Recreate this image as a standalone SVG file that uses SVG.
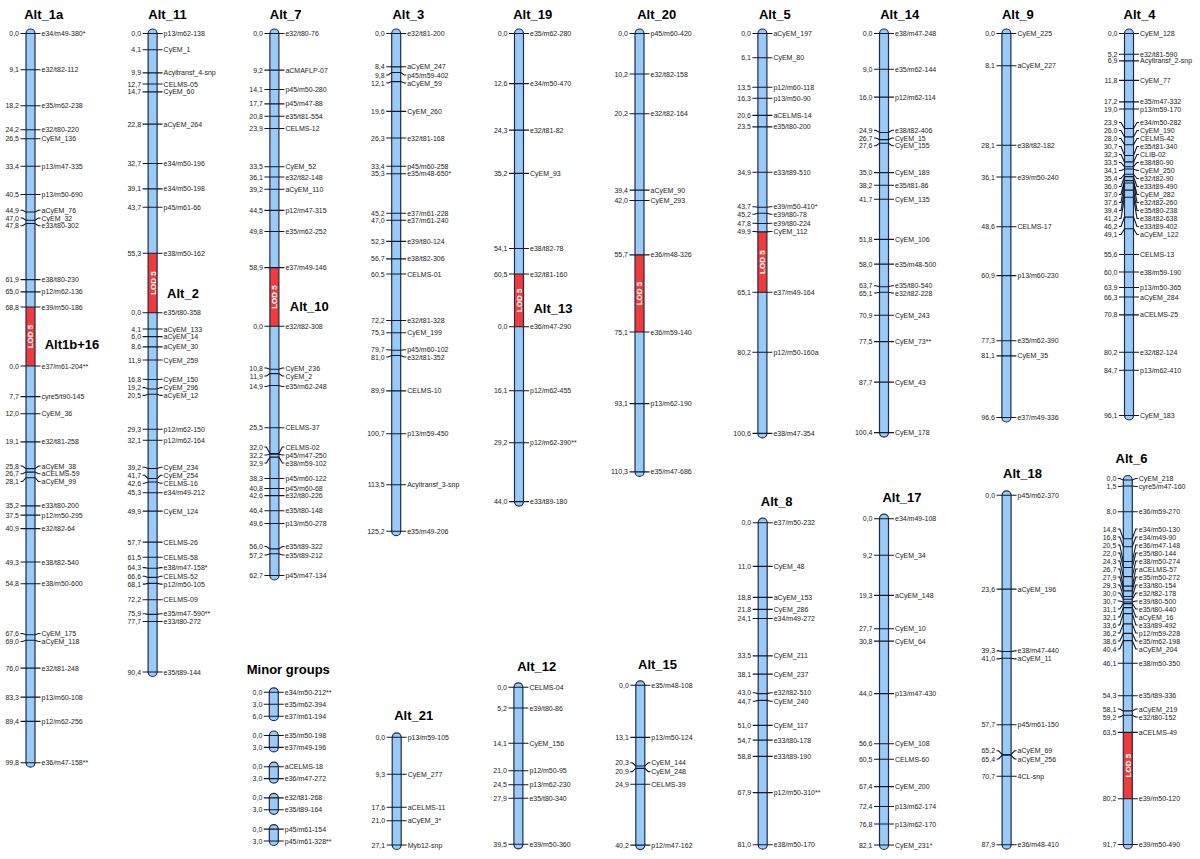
<svg xmlns="http://www.w3.org/2000/svg" width="1200" height="859" viewBox="0 0 1200 859">
<style>
.bar{fill:#9acbf8}
.ol{fill:none;stroke:#1e2c48;stroke-width:1.2}
.lod{fill:#f23a3a}
.tk{fill:none;stroke:#111a2a;stroke-width:1.1}
.n,.m{font-family:"Liberation Sans",Arial,sans-serif;font-size:7px;fill:#222}
.n{text-anchor:end}
.t{font-family:"Liberation Sans",Arial,sans-serif;font-size:13px;font-weight:bold;text-anchor:middle;fill:#000}
.ld{font-family:"Liberation Sans",Arial,sans-serif;font-size:8px;font-weight:bold;fill:#fff;text-anchor:middle}
</style>
<rect width="1200" height="859" fill="#fff"/>

<g id="Alt_1a" transform="translate(30.5 0)">
<rect class="bar" x="-4.5" y="29" width="9" height="738.2" rx="4.5"/>
<rect class="lod" x="-4.5" y="307" width="9" height="59"/>
<text class="ld" transform="translate(0 336.5) rotate(-90)" y="2.9">LOD 5</text>
<rect class="ol" x="-4.5" y="29" width="9" height="738.2" rx="4.5"/>
<path class="tk" d="M-10 33.5H10M-10 69.7H10M-10 105.8H10M-10 129.7H10M-10 138.8H10M-10 166.3H10M-10 194.5H10M-10 210.3H-8L-4.5 212H4.5L8 210.3H10M-10 218H-8L-4.5 220.3H4.5L8 218H10M-10 225.7H-8L-4.5 223.5H4.5L8 225.7H10M-10 279.6H10M-10 291.9H10M-10 307H10M-10 366H10M-10 396.6H10M-10 413.7H10M-10 441.9H10M-10 466H-8L-4.5 468.6H4.5L8 466H10M-10 473.7H-8L-4.5 472.1H4.5L8 473.7H10M-10 481.5H-8L-4.5 477.7H4.5L8 481.5H10M-10 505.9H10M-10 515.1H10M-10 528.6H10M-10 562H10M-10 583.8H10M-10 633.5H-8L-4.5 634.7H4.5L8 633.5H10M-10 641.5H-8L-4.5 640.3H4.5L8 641.5H10M-10 668.1H10M-10 697.1H10M-10 721.4H10M-10 762.7H10"/>
<g class="n" transform="translate(-11.5 2.5)"><text y="33.5">0,0</text><text y="69.7">9,1</text><text y="105.8">18,2</text><text y="129.7">24,2</text><text y="138.8">26,5</text><text y="166.3">33,4</text><text y="194.5">40,5</text><text y="210.3">44,9</text><text y="218">47,0</text><text y="225.7">47,8</text><text y="279.6">61,9</text><text y="291.9">65,0</text><text y="307">68,8</text><text y="366">0,0</text><text y="396.6">7,7</text><text y="413.7">12,0</text><text y="441.9">19,1</text><text y="466">25,8</text><text y="473.7">26,7</text><text y="481.5">28,1</text><text y="505.9">35,2</text><text y="515.1">37,5</text><text y="528.6">40,9</text><text y="562">49,3</text><text y="583.8">54,8</text><text y="633.5">67,6</text><text y="641.5">69,0</text><text y="668.1">76,0</text><text y="697.1">83,3</text><text y="721.4">89,4</text><text y="762.7">99,8</text></g>
<g class="m" transform="translate(11 2.5)"><text y="33.5">e34/m49-380*</text><text y="69.7">e32/t82-112</text><text y="105.8">e35/m62-238</text><text y="129.7">e32/t80-220</text><text y="138.8">CyEM_136</text><text y="166.3">p13/m47-335</text><text y="194.5">p13/m50-690</text><text y="210.3">aCyEM_76</text><text y="218">CyEM_32</text><text y="225.7">e33/t80-302</text><text y="279.6">e38/t80-230</text><text y="291.9">p12/m62-136</text><text y="307">e39/m50-186</text><text y="366">e37/m61-204**</text><text y="396.6">cyre5/t90-145</text><text y="413.7">CyEM_36</text><text y="441.9">e32/t81-258</text><text y="466">aCyEM_38</text><text y="473.7">aCELMS-59</text><text y="481.5">aCyEM_99</text><text y="505.9">e33/t80-200</text><text y="515.1">p12/m50-295</text><text y="528.6">e32/t82-64</text><text y="562">e38/t82-540</text><text y="583.8">e38/m50-600</text><text y="633.5">CyEM_175</text><text y="641.5">aCyEM_118</text><text y="668.1">e32/t81-248</text><text y="697.1">p13/m60-108</text><text y="721.4">p12/m62-256</text><text y="762.7">e36/m47-158**</text></g>
<text class="t" x="13.2" y="18.5">Alt_1a</text>
<text class="t" x="41.5" y="348.5">Alt1b+16</text>
</g>

<g id="Alt_11" transform="translate(152.6 0)">
<rect class="bar" x="-4.5" y="29" width="9" height="647.5" rx="4.5"/>
<rect class="lod" x="-4.5" y="253.3" width="9" height="59.4"/>
<text class="ld" transform="translate(0 283) rotate(-90)" y="2.9">LOD 5</text>
<rect class="ol" x="-4.5" y="29" width="9" height="647.5" rx="4.5"/>
<path class="tk" d="M-10 33.5H10M-10 49.8H10M-10 72.9H10M-10 84H10M-10 91.9H10M-10 124.1H10M-10 163.5H10M-10 188.9H10M-10 207.2H10M-10 253.3H10M-10 312.7H10M-10 329H10M-10 336.6H10M-10 346.9H10M-10 360H10M-10 379.3H-8L-4.5 379.5H4.5L8 379.3H10M-10 387.6H-8L-4.5 389H4.5L8 387.6H10M-10 395.4H-8L-4.5 394.2H4.5L8 395.4H10M-10 429.2H10M-10 440.3H10M-10 467.3H-8L-4.5 468.5H4.5L8 467.3H10M-10 475.3H-8L-4.5 478.5H4.5L8 475.3H10M-10 483.2H-8L-4.5 482H4.5L8 483.2H10M-10 492.8H10M-10 511.1H10M-10 542.1H10M-10 557.2H10M-10 567.6H-8L-4.5 568.3H4.5L8 567.6H10M-10 576.3H-8L-4.5 577.4H4.5L8 576.3H10M-10 584.1H-8L-4.5 583.4H4.5L8 584.1H10M-10 599.7H10M-10 613.7H-8L-4.5 614.4H4.5L8 613.7H10M-10 621.5H10M-10 672H10"/>
<g class="n" transform="translate(-11.5 2.5)"><text y="33.5">0,0</text><text y="49.8">4,1</text><text y="72.9">9,9</text><text y="84">12,7</text><text y="91.9">14,7</text><text y="124.1">22,8</text><text y="163.5">32,7</text><text y="188.9">39,1</text><text y="207.2">43,7</text><text y="253.3">55,3</text><text y="312.7">0,0</text><text y="329">4,1</text><text y="336.6">6,0</text><text y="346.9">8,6</text><text y="360">11,9</text><text y="379.3">16,8</text><text y="387.6">19,2</text><text y="395.4">20,5</text><text y="429.2">29,3</text><text y="440.3">32,1</text><text y="467.3">39,2</text><text y="475.3">41,7</text><text y="483.2">42,6</text><text y="492.8">45,3</text><text y="511.1">49,9</text><text y="542.1">57,7</text><text y="557.2">61,5</text><text y="567.6">64,3</text><text y="576.3">66,6</text><text y="584.1">68,1</text><text y="599.7">72,2</text><text y="613.7">75,9</text><text y="621.5">77,7</text><text y="672">90,4</text></g>
<g class="m" transform="translate(11 2.5)"><text y="33.5">p13/m62-138</text><text y="49.8">CyEM_1</text><text y="72.9">Acyltransf_4-snp</text><text y="84">CELMS-05</text><text y="91.9">CyEM_60</text><text y="124.1">aCyEM_264</text><text y="163.5">e34/m50-196</text><text y="188.9">e34/m50-198</text><text y="207.2">p45/m61-66</text><text y="253.3">e38/m50-162</text><text y="312.7">e35/t80-358</text><text y="329">aCyEM_133</text><text y="336.6">aCyEM_14</text><text y="346.9">aCyEM_30</text><text y="360">CyEM_259</text><text y="379.3">CyEM_150</text><text y="387.6">CyEM_296</text><text y="395.4">aCyEM_12</text><text y="429.2">p12/m62-150</text><text y="440.3">p12/m62-164</text><text y="467.3">CyEM_234</text><text y="475.3">CyEM_254</text><text y="483.2">CELMS-16</text><text y="492.8">e34/m49-212</text><text y="511.1">CyEM_124</text><text y="542.1">CELMS-26</text><text y="557.2">CELMS-58</text><text y="567.6">e38/m47-158*</text><text y="576.3">CELMS-52</text><text y="584.1">p12/m50-105</text><text y="599.7">CELMS-09</text><text y="613.7">e35/m47-590**</text><text y="621.5">e33/t80-272</text><text y="672">e35/t89-144</text></g>
<text class="t" x="14.9" y="18.5">Alt_11</text>
<text class="t" x="30.4" y="298">Alt_2</text>
</g>

<g id="Alt_7" transform="translate(274.4 0)">
<rect class="bar" x="-4.5" y="29" width="9" height="551" rx="4.5"/>
<rect class="lod" x="-4.5" y="267.6" width="9" height="58.7"/>
<text class="ld" transform="translate(0 297) rotate(-90)" y="2.9">LOD 5</text>
<rect class="ol" x="-4.5" y="29" width="9" height="551" rx="4.5"/>
<path class="tk" d="M-10 33.5H10M-10 70.1H10M-10 89.5H10M-10 103.9H10M-10 116.2H10M-10 128.5H10M-10 166.7H10M-10 177H10M-10 189.3H10M-10 210.4H10M-10 231.5H10M-10 267.6H10M-10 326.3H10M-10 368H-8L-4.5 369.2H4.5L8 368H10M-10 376H-8L-4.5 373.6H4.5L8 376H10M-10 386.5H-8L-4.5 385.5H4.5L8 386.5H10M-10 427.7H10M-10 447H-8L-4.5 453.5H4.5L8 447H10M-10 455H-8L-4.5 454.3H4.5L8 455H10M-10 463H-8L-4.5 457.1H4.5L8 463H10M-10 478.5H10M-10 488.5H10M-10 495.6H10M-10 510.7H10M-10 523.5H10M-10 546.5H-8L-4.5 548.9H4.5L8 546.5H10M-10 555H-8L-4.5 553.7H4.5L8 555H10M-10 575.5H10"/>
<g class="n" transform="translate(-11.5 2.5)"><text y="33.5">0,0</text><text y="70.1">9,2</text><text y="89.5">14,1</text><text y="103.9">17,7</text><text y="116.2">20,8</text><text y="128.5">23,9</text><text y="166.7">33,5</text><text y="177">36,1</text><text y="189.3">39,2</text><text y="210.4">44,5</text><text y="231.5">49,8</text><text y="267.6">58,9</text><text y="326.3">0,0</text><text y="368">10,8</text><text y="376">11,9</text><text y="386.5">14,9</text><text y="427.7">25,5</text><text y="447">32,0</text><text y="455">32,2</text><text y="463">32,9</text><text y="478.5">38,3</text><text y="488.5">40,8</text><text y="495.6">42,6</text><text y="510.7">46,4</text><text y="523.5">49,6</text><text y="546.5">56,0</text><text y="555">57,2</text><text y="575.5">62,7</text></g>
<g class="m" transform="translate(11 2.5)"><text y="33.5">e32/t80-76</text><text y="70.1">aCMAFLP-07</text><text y="89.5">p45/m50-280</text><text y="103.9">p45/m47-88</text><text y="116.2">e35/t81-554</text><text y="128.5">CELMS-12</text><text y="166.7">CyEM_52</text><text y="177">e32/t82-148</text><text y="189.3">aCyEM_110</text><text y="210.4">p12/m47-315</text><text y="231.5">e35/m62-252</text><text y="267.6">e37/m49-146</text><text y="326.3">e32/t82-308</text><text y="368">CyEM_236</text><text y="376">CyEM_2</text><text y="386.5">e35/m62-248</text><text y="427.7">CELMS-37</text><text y="447">CELMS-02</text><text y="455">p45/m47-250</text><text y="463">e38/m59-102</text><text y="478.5">p45/m60-122</text><text y="488.5">p45/m60-68</text><text y="495.6">e32/t80-226</text><text y="510.7">e35/t80-148</text><text y="523.5">p13/m50-278</text><text y="546.5">e35/t89-322</text><text y="555">e35/t89-212</text><text y="575.5">p45/m47-134</text></g>
<text class="t" x="11.3" y="18.5">Alt_7</text>
<text class="t" x="34.9" y="310.5">Alt_10</text>
</g>

<g id="Alt_3" transform="translate(396.2 0)">
<rect class="bar" x="-4.5" y="29" width="9" height="506.7" rx="4.5"/>
<rect class="ol" x="-4.5" y="29" width="9" height="506.7" rx="4.5"/>
<path class="tk" d="M-10 33.5H10M-10 66.7H-8L-4.5 66.9H4.5L8 66.7H10M-10 75H-8L-4.5 72.5H4.5L8 75H10M-10 83H-8L-4.5 81.6H4.5L8 83H10M-10 111.4H10M-10 138H10M-10 166.3H10M-10 173.8H10M-10 213.2H10M-10 220.3H10M-10 241.4H10M-10 258.9H10M-10 274H10M-10 320.5H10M-10 332.8H10M-10 349.8H-8L-4.5 350.3H4.5L8 349.8H10M-10 357H-8L-4.5 355.5H4.5L8 357H10M-10 390.9H10M-10 433.8H10M-10 484.7H10M-10 531.2H10"/>
<g class="n" transform="translate(-11.5 2.5)"><text y="33.5">0,0</text><text y="66.7">8,4</text><text y="75">9,8</text><text y="83">12,1</text><text y="111.4">19,6</text><text y="138">26,3</text><text y="166.3">33,4</text><text y="173.8">35,3</text><text y="213.2">45,2</text><text y="220.3">47,0</text><text y="241.4">52,3</text><text y="258.9">56,7</text><text y="274">60,5</text><text y="320.5">72,2</text><text y="332.8">75,3</text><text y="349.8">79,7</text><text y="357">81,0</text><text y="390.9">89,9</text><text y="433.8">100,7</text><text y="484.7">113,5</text><text y="531.2">125,2</text></g>
<g class="m" transform="translate(11 2.5)"><text y="33.5">e32/t81-200</text><text y="66.7">aCyEM_247</text><text y="75">p45/m59-402</text><text y="83">aCyEM_59</text><text y="111.4">CyEM_260</text><text y="138">e32/t81-168</text><text y="166.3">p45/m60-258</text><text y="173.8">e35/m48-650*</text><text y="213.2">e37/m61-228</text><text y="220.3">e37/m61-240</text><text y="241.4">e39/t80-124</text><text y="258.9">e38/t82-306</text><text y="274">CELMS-01</text><text y="320.5">e32/t81-328</text><text y="332.8">CyEM_199</text><text y="349.8">p45/m60-102</text><text y="357">e32/t81-352</text><text y="390.9">CELMS-10</text><text y="433.8">p13/m59-450</text><text y="484.7">Acyltransf_3-snp</text><text y="531.2">e35/m49-206</text></g>
<text class="t" x="12.1" y="18.5">Alt_3</text>
</g>

<g id="Alt_19" transform="translate(519 0)">
<rect class="bar" x="-4.5" y="29" width="9" height="477.1" rx="4.5"/>
<rect class="lod" x="-4.5" y="274" width="9" height="52.7"/>
<text class="ld" transform="translate(0 300.4) rotate(-90)" y="2.9">LOD 5</text>
<rect class="ol" x="-4.5" y="29" width="9" height="477.1" rx="4.5"/>
<path class="tk" d="M-10 33.5H10M-10 83.6H10M-10 130.1H10M-10 173.4H10M-10 248.5H10M-10 274H10M-10 326.7H10M-10 390.7H10M-10 442.8H10M-10 501.6H10"/>
<g class="n" transform="translate(-11.5 2.5)"><text y="33.5">0,0</text><text y="83.6">12,6</text><text y="130.1">24,3</text><text y="173.4">35,2</text><text y="248.5">54,1</text><text y="274">60,5</text><text y="326.7">0,0</text><text y="390.7">16,1</text><text y="442.8">29,2</text><text y="501.6">44,0</text></g>
<g class="m" transform="translate(11 2.5)"><text y="33.5">e35/m62-280</text><text y="83.6">e34/m50-470</text><text y="130.1">e32/t81-82</text><text y="173.4">CyEM_93</text><text y="248.5">e38/t82-78</text><text y="274">e32/t81-160</text><text y="326.7">e36/m47-290</text><text y="390.7">p12/m62-455</text><text y="442.8">p12/m62-390**</text><text y="501.6">e33/t89-180</text></g>
<text class="t" x="13.7" y="18.5">Alt_19</text>
<text class="t" x="34" y="312.5">Alt_13</text>
</g>

<g id="Alt_20" transform="translate(639.5 0)">
<rect class="bar" x="-4.5" y="29" width="9" height="447.4" rx="4.5"/>
<rect class="lod" x="-4.5" y="254.9" width="9" height="77.1"/>
<text class="ld" transform="translate(0 293.5) rotate(-90)" y="2.9">LOD 5</text>
<rect class="ol" x="-4.5" y="29" width="9" height="447.4" rx="4.5"/>
<path class="tk" d="M-10 33.5H10M-10 74H10M-10 113.8H10M-10 190.1H10M-10 200.5H10M-10 254.9H10M-10 332H10M-10 403.6H10M-10 471.9H10"/>
<g class="n" transform="translate(-11.5 2.5)"><text y="33.5">0,0</text><text y="74">10,2</text><text y="113.8">20,2</text><text y="190.1">39,4</text><text y="200.5">42,0</text><text y="254.9">55,7</text><text y="332">75,1</text><text y="403.6">93,1</text><text y="471.9">110,3</text></g>
<g class="m" transform="translate(11 2.5)"><text y="33.5">p45/m60-420</text><text y="74">e32/t82-158</text><text y="113.8">e32/t82-164</text><text y="190.1">aCyEM_90</text><text y="200.5">CyEM_293</text><text y="254.9">e36/m48-326</text><text y="332">e36/m59-140</text><text y="403.6">p13/m62-190</text><text y="471.9">e35/m47-686</text></g>
<text class="t" x="17.2" y="18.5">Alt_20</text>
</g>

<g id="Alt_5" transform="translate(762.4 0)">
<rect class="bar" x="-4.5" y="29" width="9" height="408.9" rx="4.5"/>
<rect class="lod" x="-4.5" y="231.9" width="9" height="60.4"/>
<text class="ld" transform="translate(0 262.1) rotate(-90)" y="2.9">LOD 5</text>
<rect class="ol" x="-4.5" y="29" width="9" height="408.9" rx="4.5"/>
<path class="tk" d="M-10 33.5H10M-10 57.7H10M-10 87.2H10M-10 98.3H10M-10 115.4H10M-10 126.9H10M-10 172.2H10M-10 206.7H-8L-4.5 207.2H4.5L8 206.7H10M-10 214.3H-8L-4.5 213.2H4.5L8 214.3H10M-10 223.3H-8L-4.5 223.5H4.5L8 223.3H10M-10 231.5H-8L-4.5 231.9H4.5L8 231.5H10M-10 292.3H10M-10 352.3H10M-10 433.4H10"/>
<g class="n" transform="translate(-11.5 2.5)"><text y="33.5">0,0</text><text y="57.7">6,1</text><text y="87.2">13,5</text><text y="98.3">16,3</text><text y="115.4">20,6</text><text y="126.9">23,5</text><text y="172.2">34,9</text><text y="206.7">43,7</text><text y="214.3">45,2</text><text y="223.3">47,8</text><text y="231.5">49,9</text><text y="292.3">65,1</text><text y="352.3">80,2</text><text y="433.4">100,6</text></g>
<g class="m" transform="translate(11 2.5)"><text y="33.5">aCyEM_197</text><text y="57.7">CyEM_80</text><text y="87.2">p12/m60-118</text><text y="98.3">p13/m50-90</text><text y="115.4">aCELMS-14</text><text y="126.9">e35/t80-200</text><text y="172.2">e33/t89-510</text><text y="206.7">e39/m50-410*</text><text y="214.3">e39/t80-78</text><text y="223.3">e39/t80-224</text><text y="231.5">CyEM_112</text><text y="292.3">e37/m49-164</text><text y="352.3">p12/m50-160a</text><text y="433.4">e38/m47-354</text></g>
<text class="t" x="12.4" y="18.5">Alt_5</text>
</g>

<g id="Alt_14" transform="translate(884 0)">
<rect class="bar" x="-4.5" y="29" width="9" height="408.1" rx="4.5"/>
<rect class="ol" x="-4.5" y="29" width="9" height="408.1" rx="4.5"/>
<path class="tk" d="M-10 33.5H10M-10 69.3H10M-10 97.1H10M-10 130.3H-8L-4.5 132.5H4.5L8 130.3H10M-10 138H-8L-4.5 139.6H4.5L8 138H10M-10 145.8H-8L-4.5 143.2H4.5L8 145.8H10M-10 172.6H10M-10 185.3H10M-10 199.3H10M-10 239.4H10M-10 264.1H10M-10 285.8H-8L-4.5 286.7H4.5L8 285.8H10M-10 293H-8L-4.5 292.3H4.5L8 293H10M-10 315.3H10M-10 341.6H10M-10 382.1H10M-10 432.6H10"/>
<g class="n" transform="translate(-11.5 2.5)"><text y="33.5">0,0</text><text y="69.3">9,0</text><text y="97.1">16,0</text><text y="130.3">24,9</text><text y="138">26,7</text><text y="145.8">27,6</text><text y="172.6">35,0</text><text y="185.3">38,2</text><text y="199.3">41,7</text><text y="239.4">51,8</text><text y="264.1">58,0</text><text y="285.8">63,7</text><text y="293">65,1</text><text y="315.3">70,9</text><text y="341.6">77,5</text><text y="382.1">87,7</text><text y="432.6">100,4</text></g>
<g class="m" transform="translate(11 2.5)"><text y="33.5">e38/m47-248</text><text y="69.3">e35/m62-144</text><text y="97.1">p12/m62-114</text><text y="130.3">e38/t82-406</text><text y="138">CyEM_15</text><text y="145.8">CyEM_155</text><text y="172.6">CyEM_189</text><text y="185.3">e35/t81-86</text><text y="199.3">CyEM_135</text><text y="239.4">CyEM_106</text><text y="264.1">e35/m48-500</text><text y="285.8">e35/t80-540</text><text y="293">e32/t82-228</text><text y="315.3">CyEM_243</text><text y="341.6">CyEM_73**</text><text y="382.1">CyEM_43</text><text y="432.6">CyEM_178</text></g>
<text class="t" x="15.7" y="18.5">Alt_14</text>
</g>

<g id="Alt_9" transform="translate(1006.4 0)">
<rect class="bar" x="-4.5" y="29" width="9" height="393" rx="4.5"/>
<rect class="ol" x="-4.5" y="29" width="9" height="393" rx="4.5"/>
<path class="tk" d="M-10 33.5H10M-10 65.7H10M-10 145.2H10M-10 177H10M-10 226.7H10M-10 275.6H10M-10 340.8H10M-10 355.9H10M-10 417.5H10"/>
<g class="n" transform="translate(-11.5 2.5)"><text y="33.5">0,0</text><text y="65.7">8,1</text><text y="145.2">28,1</text><text y="177">36,1</text><text y="226.7">48,6</text><text y="275.6">60,9</text><text y="340.8">77,3</text><text y="355.9">81,1</text><text y="417.5">96,6</text></g>
<g class="m" transform="translate(11 2.5)"><text y="33.5">CyEM_225</text><text y="65.7">aCyEM_227</text><text y="145.2">e38/t82-182</text><text y="177">e39/m50-240</text><text y="226.7">CELMS-17</text><text y="275.6">p13/m60-230</text><text y="340.8">e35/m62-390</text><text y="355.9">CyEM_35</text><text y="417.5">e37/m49-336</text></g>
<text class="t" x="11.4" y="18.5">Alt_9</text>
</g>

<g id="Alt_4" transform="translate(1129 0)">
<rect class="bar" x="-4.5" y="29" width="9" height="391" rx="4.5"/>
<rect class="ol" x="-4.5" y="29" width="9" height="391" rx="4.5"/>
<path class="tk" d="M-10 33.5H10M-10 54.2H10M-10 60.9H10M-10 80.4H10M-10 101.9H10M-10 109H10M-10 122.5H-8L-4.5 128.5H4.5L8 122.5H10M-10 130.5H-8L-4.5 136.9H4.5L8 130.5H10M-10 138.5H-8L-4.5 144.8H4.5L8 138.5H10M-10 146.5H-8L-4.5 155.5H4.5L8 146.5H10M-10 154.5H-8L-4.5 161.9H4.5L8 154.5H10M-10 162.5H-8L-4.5 166.7H4.5L8 162.5H10M-10 170.5H-8L-4.5 169H4.5L8 170.5H10M-10 178.5H-8L-4.5 174.2H4.5L8 178.5H10M-10 186.5H-8L-4.5 176.6H4.5L8 186.5H10M-10 194.5H-8L-4.5 180.6H4.5L8 194.5H10M-10 202.5H-8L-4.5 183H4.5L8 202.5H10M-10 210.5H-8L-4.5 190.1H4.5L8 210.5H10M-10 218.5H-8L-4.5 197.3H4.5L8 218.5H10M-10 226.5H-8L-4.5 217.1H4.5L8 226.5H10M-10 234.5H-8L-4.5 228.7H4.5L8 234.5H10M-10 254.5H10M-10 272H10M-10 287.5H10M-10 297H10M-10 314.9H10M-10 352.3H10M-10 370.2H10M-10 415.5H10"/>
<g class="n" transform="translate(-11.5 2.5)"><text y="33.5">0,0</text><text y="54.2">5,2</text><text y="60.9">6,9</text><text y="80.4">11,8</text><text y="101.9">17,2</text><text y="109">19,0</text><text y="122.5">23,9</text><text y="130.5">26,0</text><text y="138.5">28,0</text><text y="146.5">30,7</text><text y="154.5">32,3</text><text y="162.5">33,5</text><text y="170.5">34,1</text><text y="178.5">35,4</text><text y="186.5">36,0</text><text y="194.5">37,0</text><text y="202.5">37,6</text><text y="210.5">39,4</text><text y="218.5">41,2</text><text y="226.5">46,2</text><text y="234.5">49,1</text><text y="254.5">55,6</text><text y="272">60,0</text><text y="287.5">63,9</text><text y="297">66,3</text><text y="314.9">70,8</text><text y="352.3">80,2</text><text y="370.2">84,7</text><text y="415.5">96,1</text></g>
<g class="m" transform="translate(11 2.5)"><text y="33.5">CyEM_128</text><text y="54.2">e32/t81-590</text><text y="60.9">Acyltransf_2-snp</text><text y="80.4">CyEM_77</text><text y="101.9">e35/m47-332</text><text y="109">p13/m59-170</text><text y="122.5">e34/m50-282</text><text y="130.5">CyEM_190</text><text y="138.5">CELMS-42</text><text y="146.5">e35/t81-340</text><text y="154.5">CLIB-02</text><text y="162.5">e38/t80-90</text><text y="170.5">CyEM_250</text><text y="178.5">e32/t82-90</text><text y="186.5">e33/t89-490</text><text y="194.5">CyEM_282</text><text y="202.5">e32/t82-260</text><text y="210.5">e35/t80-238</text><text y="218.5">e38/t82-638</text><text y="226.5">e33/t89-402</text><text y="234.5">aCyEM_122</text><text y="254.5">CELMS-13</text><text y="272">e38/m59-190</text><text y="287.5">p13/m50-365</text><text y="297">aCyEM_284</text><text y="314.9">aCELMS-25</text><text y="352.3">e32/t82-124</text><text y="370.2">p13/m62-410</text><text y="415.5">CyEM_183</text></g>
<text class="t" x="10.5" y="18.5">Alt_4</text>
</g>

<g id="Minor_groups" transform="translate(273.8 0)">
<rect class="bar" x="-4.5" y="687.8" width="9" height="32.9" rx="4.5"/>
<rect class="bar" x="-4.5" y="731" width="9" height="20.9" rx="4.5"/>
<rect class="bar" x="-4.5" y="762.2" width="9" height="20.9" rx="4.5"/>
<rect class="bar" x="-4.5" y="793.4" width="9" height="20.9" rx="4.5"/>
<rect class="bar" x="-4.5" y="824.6" width="9" height="20.9" rx="4.5"/>
<rect class="ol" x="-4.5" y="687.8" width="9" height="32.9" rx="4.5"/>
<rect class="ol" x="-4.5" y="731" width="9" height="20.9" rx="4.5"/>
<rect class="ol" x="-4.5" y="762.2" width="9" height="20.9" rx="4.5"/>
<rect class="ol" x="-4.5" y="793.4" width="9" height="20.9" rx="4.5"/>
<rect class="ol" x="-4.5" y="824.6" width="9" height="20.9" rx="4.5"/>
<path class="tk" d="M-10 692.3H10M-10 704.2H10M-10 716.2H10M-10 735.5H10M-10 747.4H10M-10 766.7H10M-10 778.6H10M-10 797.9H10M-10 809.8H10M-10 829.1H10M-10 841H10"/>
<g class="n" transform="translate(-11.5 2.5)"><text y="692.3">0,0</text><text y="704.2">3,0</text><text y="716.2">6,0</text><text y="735.5">0,0</text><text y="747.4">3,0</text><text y="766.7">0,0</text><text y="778.6">3,0</text><text y="797.9">0,0</text><text y="809.8">3,0</text><text y="829.1">0,0</text><text y="841">3,0</text></g>
<g class="m" transform="translate(11 2.5)"><text y="692.3">e34/m50-212**</text><text y="704.2">e35/m62-394</text><text y="716.2">e37/m61-194</text><text y="735.5">e35/m50-198</text><text y="747.4">e37/m49-196</text><text y="766.7">aCELMS-18</text><text y="778.6">e36/m47-272</text><text y="797.9">e32/t81-268</text><text y="809.8">e35/t89-164</text><text y="829.1">p45/m61-154</text><text y="841">p45/m61-328**</text></g>
<text class="t" x="14.5" y="674">Minor groups</text>
</g>

<g id="Alt_21" transform="translate(396.7 0)">
<rect class="bar" x="-4.5" y="732.8" width="9" height="116.7" rx="4.5"/>
<rect class="ol" x="-4.5" y="732.8" width="9" height="116.7" rx="4.5"/>
<path class="tk" d="M-10 737.3H10M-10 774.3H10M-10 807.3H10M-10 820.8H10M-10 845H10"/>
<g class="n" transform="translate(-11.5 2.5)"><text y="737.3">0,0</text><text y="774.3">9,3</text><text y="807.3">17,6</text><text y="820.8">21,0</text><text y="845">27,1</text></g>
<g class="m" transform="translate(11 2.5)"><text y="737.3">p13/m59-105</text><text y="774.3">CyEM_277</text><text y="807.3">aCELMS-11</text><text y="820.8">aCyEM_3*</text><text y="845">Myb12-snp</text></g>
<text class="t" x="17" y="720">Alt_21</text>
</g>

<g id="Alt_12" transform="translate(518.4 0)">
<rect class="bar" x="-4.5" y="682.8" width="9" height="166" rx="4.5"/>
<rect class="ol" x="-4.5" y="682.8" width="9" height="166" rx="4.5"/>
<path class="tk" d="M-10 687.3H10M-10 708H10M-10 743.3H10M-10 770.8H10M-10 784.7H10M-10 798.2H10M-10 844.3H10"/>
<g class="n" transform="translate(-11.5 2.5)"><text y="687.3">0,0</text><text y="708">5,2</text><text y="743.3">14,1</text><text y="770.8">21,0</text><text y="784.7">24,5</text><text y="798.2">27,9</text><text y="844.3">39,5</text></g>
<g class="m" transform="translate(11 2.5)"><text y="687.3">CELMS-04</text><text y="708">e39/t80-86</text><text y="743.3">CyEM_156</text><text y="770.8">p12/m50-95</text><text y="784.7">p13/m62-230</text><text y="798.2">e35/t80-340</text><text y="844.3">e39/m50-360</text></g>
<text class="t" x="18.3" y="671">Alt_12</text>
</g>

<g id="Alt_15" transform="translate(640.3 0)">
<rect class="bar" x="-4.5" y="680.8" width="9" height="168.8" rx="4.5"/>
<rect class="ol" x="-4.5" y="680.8" width="9" height="168.8" rx="4.5"/>
<path class="tk" d="M-10 685.3H10M-10 737.4H10M-10 762.8H-8L-4.5 766H4.5L8 762.8H10M-10 771.6H-8L-4.5 768.4H4.5L8 771.6H10M-10 784.3H10M-10 845.1H10"/>
<g class="n" transform="translate(-11.5 2.5)"><text y="685.3">0,0</text><text y="737.4">13,1</text><text y="762.8">20,3</text><text y="771.6">20,9</text><text y="784.3">24,9</text><text y="845.1">40,2</text></g>
<g class="m" transform="translate(11 2.5)"><text y="685.3">e35/m48-108</text><text y="737.4">p13/m50-124</text><text y="762.8">CyEM_144</text><text y="771.6">CyEM_248</text><text y="784.3">CELMS-39</text><text y="845.1">p12/m47-162</text></g>
<text class="t" x="17.2" y="668.5">Alt_15</text>
</g>

<g id="Alt_8" transform="translate(762.7 0)">
<rect class="bar" x="-4.5" y="518.2" width="9" height="331" rx="4.5"/>
<rect class="ol" x="-4.5" y="518.2" width="9" height="331" rx="4.5"/>
<path class="tk" d="M-10 522.7H10M-10 566.4H10M-10 597.4H10M-10 609.4H10M-10 618.5H10M-10 655.9H10M-10 674.1H10M-10 692.8H-8L-4.5 693.6H4.5L8 692.8H10M-10 701.2H-8L-4.5 700.4H4.5L8 701.2H10M-10 725.4H10M-10 740.1H10M-10 756.4H10M-10 792.6H10M-10 844.7H10"/>
<g class="n" transform="translate(-11.5 2.5)"><text y="522.7">0,0</text><text y="566.4">11,0</text><text y="597.4">18,8</text><text y="609.4">21,8</text><text y="618.5">24,1</text><text y="655.9">33,5</text><text y="674.1">38,1</text><text y="692.8">43,0</text><text y="701.2">44,7</text><text y="725.4">51,0</text><text y="740.1">54,7</text><text y="756.4">58,8</text><text y="792.6">67,9</text><text y="844.7">81,0</text></g>
<g class="m" transform="translate(11 2.5)"><text y="522.7">e37/m50-232</text><text y="566.4">CyEM_48</text><text y="597.4">aCyEM_153</text><text y="609.4">CyEM_286</text><text y="618.5">e34/m49-272</text><text y="655.9">CyEM_211</text><text y="674.1">CyEM_237</text><text y="692.8">e32/t82-510</text><text y="701.2">CyEM_240</text><text y="725.4">CyEM_117</text><text y="740.1">e33/t80-178</text><text y="756.4">e33/t89-190</text><text y="792.6">p12/m50-310**</text><text y="844.7">e38/m50-170</text></g>
<text class="t" x="14" y="506">Alt_8</text>
</g>

<g id="Alt_17" transform="translate(884 0)">
<rect class="bar" x="-4.5" y="514.2" width="9" height="335.3" rx="4.5"/>
<rect class="ol" x="-4.5" y="514.2" width="9" height="335.3" rx="4.5"/>
<path class="tk" d="M-10 518.7H10M-10 555.3H10M-10 595.4H10M-10 628.8H10M-10 641.1H10M-10 693.6H10M-10 743.7H10M-10 759.2H10M-10 786.6H10M-10 806.5H10M-10 824H10M-10 845H10"/>
<g class="n" transform="translate(-11.5 2.5)"><text y="518.7">0,0</text><text y="555.3">9,2</text><text y="595.4">19,3</text><text y="628.8">27,7</text><text y="641.1">30,8</text><text y="693.6">44,0</text><text y="743.7">56,6</text><text y="759.2">60,5</text><text y="786.6">67,4</text><text y="806.5">72,4</text><text y="824">76,8</text><text y="845">82,1</text></g>
<g class="m" transform="translate(11 2.5)"><text y="518.7">e34/m49-108</text><text y="555.3">CyEM_34</text><text y="595.4">aCyEM_148</text><text y="628.8">CyEM_10</text><text y="641.1">CyEM_64</text><text y="693.6">p13/m47-430</text><text y="743.7">CyEM_108</text><text y="759.2">CELMS-60</text><text y="786.6">CyEM_200</text><text y="806.5">p13/m62-174</text><text y="824">p13/m62-170</text><text y="845">CyEM_231*</text></g>
<text class="t" x="18" y="501.5">Alt_17</text>
</g>

<g id="Alt_18" transform="translate(1006.6 0)">
<rect class="bar" x="-4.5" y="490.8" width="9" height="358.4" rx="4.5"/>
<rect class="ol" x="-4.5" y="490.8" width="9" height="358.4" rx="4.5"/>
<path class="tk" d="M-10 495.3H10M-10 589.1H10M-10 650.9H-8L-4.5 651.5H4.5L8 650.9H10M-10 658.9H-8L-4.5 658.3H4.5L8 658.9H10M-10 724.7H10M-10 750.8H-8L-4.5 754.5H4.5L8 750.8H10M-10 759H-8L-4.5 755.3H4.5L8 759H10M-10 776.3H10M-10 844.7H10"/>
<g class="n" transform="translate(-11.5 2.5)"><text y="495.3">0,0</text><text y="589.1">23,6</text><text y="650.9">39,3</text><text y="658.9">41,0</text><text y="724.7">57,7</text><text y="750.8">65,2</text><text y="759">65,4</text><text y="776.3">70,7</text><text y="844.7">87,9</text></g>
<g class="m" transform="translate(11 2.5)"><text y="495.3">p45/m62-370</text><text y="589.1">aCyEM_196</text><text y="650.9">e38/m47-440</text><text y="658.9">aCyEM_11</text><text y="724.7">p45/m61-150</text><text y="750.8">aCyEM_69</text><text y="759">aCyEM_256</text><text y="776.3">4CL-snp</text><text y="844.7">e36/m48-410</text></g>
<text class="t" x="15.9" y="478">Alt_18</text>
</g>

<g id="Alt_6" transform="translate(1127.8 0)">
<rect class="bar" x="-4.5" y="475.5" width="9" height="373.5" rx="4.5"/>
<rect class="lod" x="-4.5" y="732.4" width="9" height="66.4"/>
<text class="ld" transform="translate(0 765.6) rotate(-90)" y="2.9">LOD 5</text>
<rect class="ol" x="-4.5" y="475.5" width="9" height="373.5" rx="4.5"/>
<path class="tk" d="M-10 478.5H-8L-4.5 480H4.5L8 478.5H10M-10 486.5H-8L-4.5 486H4.5L8 486.5H10M-10 511.8H10M-10 529H-8L-4.5 538.8H4.5L8 529H10M-10 537H-8L-4.5 546.8H4.5L8 537H10M-10 545H-8L-4.5 561.5H4.5L8 545H10M-10 553H-8L-4.5 567.5H4.5L8 553H10M-10 561H-8L-4.5 576.6H4.5L8 561H10M-10 569H-8L-4.5 586.1H4.5L8 569H10M-10 577H-8L-4.5 590.9H4.5L8 577H10M-10 585H-8L-4.5 596.5H4.5L8 585H10M-10 593H-8L-4.5 599.3H4.5L8 593H10M-10 601H-8L-4.5 602H4.5L8 601H10M-10 609H-8L-4.5 603.6H4.5L8 609H10M-10 617H-8L-4.5 607.6H4.5L8 617H10M-10 625H-8L-4.5 613.6H4.5L8 625H10M-10 633H-8L-4.5 623.9H4.5L8 633H10M-10 641H-8L-4.5 633.4H4.5L8 641H10M-10 649H-8L-4.5 640.6H4.5L8 649H10M-10 663.2H10M-10 695.8H10M-10 709H-8L-4.5 710.9H4.5L8 709H10M-10 717H-8L-4.5 715.3H4.5L8 717H10M-10 732.4H10M-10 798.8H10M-10 844.5H10"/>
<g class="n" transform="translate(-11.5 2.5)"><text y="478.5">0,0</text><text y="486.5">1,5</text><text y="511.8">8,0</text><text y="529">14,8</text><text y="537">16,8</text><text y="545">20,5</text><text y="553">22,0</text><text y="561">24,3</text><text y="569">26,7</text><text y="577">27,9</text><text y="585">29,3</text><text y="593">30,0</text><text y="601">30,7</text><text y="609">31,1</text><text y="617">32,1</text><text y="625">33,6</text><text y="633">36,2</text><text y="641">38,6</text><text y="649">40,4</text><text y="663.2">46,1</text><text y="695.8">54,3</text><text y="709">58,1</text><text y="717">59,2</text><text y="732.4">63,5</text><text y="798.8">80,2</text><text y="844.5">91,7</text></g>
<g class="m" transform="translate(11 2.5)"><text y="478.5">CyEM_218</text><text y="486.5">cyre5/m47-160</text><text y="511.8">e36/m59-270</text><text y="529">e34/m50-130</text><text y="537">e34/m49-90</text><text y="545">e36/m47-148</text><text y="553">e35/t80-144</text><text y="561">e38/m50-274</text><text y="569">aCELMS-57</text><text y="577">e35/m50-272</text><text y="585">e33/t80-154</text><text y="593">e32/t82-178</text><text y="601">e39/t80-500</text><text y="609">e35/t80-440</text><text y="617">aCyEM_16</text><text y="625">e33/t89-492</text><text y="633">p12/m59-228</text><text y="641">e35/m62-198</text><text y="649">aCyEM_204</text><text y="663.2">e38/m50-350</text><text y="695.8">e35/t89-336</text><text y="709">aCyEM_219</text><text y="717">e32/t80-152</text><text y="732.4">aCELMS-49</text><text y="798.8">e39/m50-120</text><text y="844.5">e39/m50-490</text></g>
<text class="t" x="3.7" y="462.5">Alt_6</text>
</g>
</svg>
